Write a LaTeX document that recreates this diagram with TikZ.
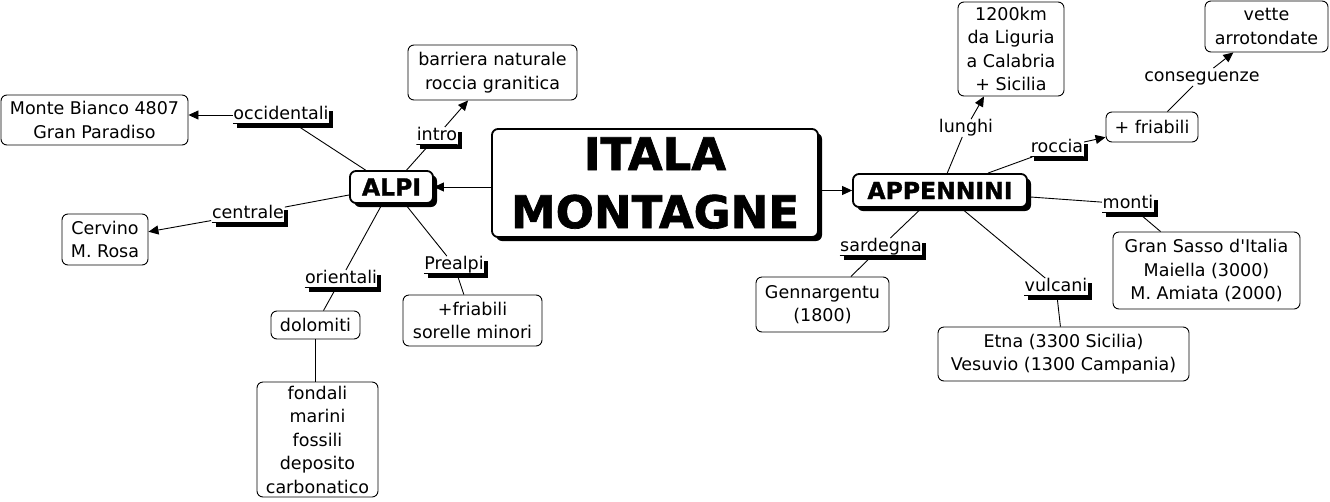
\documentclass[tikz,border=0pt]{standalone}
\usepackage{fontspec}
\setmainfont{DejaVu Sans}[Ligatures=TeXOff]
\newfontfamily\heavyfont{DejaVu Sans Bold}[FakeBold=1.5]
\usepackage{tikz}
\usetikzlibrary{arrows.meta,shadows}

\begin{document}
\begin{tikzpicture}[x=1pt,y=-1pt,line width=0.9pt,
  concept/.style={draw,rounded corners=6pt,fill=white,align=center,inner sep=0pt,font=\fontsize{17.5}{23.5}\selectfont},
  topic/.style={concept,line width=1.8pt,font=\heavyfont\fontsize{23.5}{28}\selectfont,drop shadow={shadow xshift=4pt,shadow yshift=-4pt,fill=black,opacity=1}},
  linkword/.style={fill=white,inner xsep=0.5pt,inner ysep=0pt,text height=13pt,text depth=4pt,font=\fontsize{17.5}{23.5}\selectfont},
  linkul/.style={linkword,drop shadow={shadow xshift=4pt,shadow yshift=-4pt,fill=black,opacity=1},path picture={\draw[line width=1.6pt] (path picture bounding box.south west)--(path picture bounding box.south east);}},
  arr/.style={-{Triangle[length=10pt,width=9pt]}}]
\useasboundingbox (0,0) rectangle (1330,501);
% main concepts
\node[topic,font=\heavyfont\fontsize{45}{58}\selectfont,minimum width=326pt,minimum height=108pt] (itala) at (655,183) {ITALA\\MONTAGNE};
\node[topic,minimum width=83pt,minimum height=32pt] (alpi) at (391.5,187) {ALPI};
\node[topic,minimum width=174pt,minimum height=33pt] (appennini) at (940,190.5) {APPENNINI};
% alpi side
\node[concept,minimum width=169pt,minimum height=55pt] (barriera) at (492.5,72.5) {barriera naturale\\roccia granitica};
\node[concept,minimum width=187pt,minimum height=50pt] (bianco) at (94.5,120) {Monte Bianco 4807\\Gran Paradiso};
\node[concept,minimum width=86pt,minimum height=51pt] (cervino) at (105,239.5) {Cervino\\M. Rosa};
\node[concept,minimum width=89pt,minimum height=28pt] (dolomiti) at (315.5,325) {dolomiti};
\node[concept,minimum width=121pt,minimum height=115pt] (fondali) at (317.5,439.5) {fondali\\marini\\fossili\\deposito\\carbonatico};
\node[concept,minimum width=139pt,minimum height=51pt] (sorelle) at (472.5,320.5) {+friabili\\sorelle minori};
\node[linkul] (occ) at (281,115) {occidentali};
\node[linkul] (intro) at (437,136) {intro};
\node[linkul] (centrale) at (248,214) {centrale};
\node[linkul] (orient) at (341,279) {orientali};
\node[linkul] (prealpi) at (454,265) {Prealpi};
% appennini side
\node[concept,minimum width=106pt,minimum height=94pt] (km) at (1011,49) {1200km\\da Liguria\\a Calabria\\+ Sicilia};
\node[concept,minimum width=123pt,minimum height=51pt] (vette) at (1266.5,26.5) {vette\\arrotondate};
\node[concept,minimum width=92pt,minimum height=30pt] (friabili) at (1152,127) {+ friabili};
\node[concept,minimum width=187pt,minimum height=77pt] (sasso) at (1206.5,270.5) {Gran Sasso d'Italia\\Maiella (3000)\\M. Amiata (2000)};
\node[concept,minimum width=133pt,minimum height=55pt] (gennar) at (822.5,304.5) {Gennargentu\\(1800)};
\node[concept,minimum width=251pt,minimum height=54pt] (etna) at (1063.5,354) {Etna (3300 Sicilia)\\Vesuvio (1300 Campania)};
\node[linkword] (lunghi) at (966,128) {lunghi};
\node[linkul] (roccia) at (1057,148) {roccia};
\node[linkword] (conseg) at (1202,77) {conseguenze};
\node[linkul] (monti) at (1128,204) {monti};
\node[linkul] (sardegna) at (881,247) {sardegna};
\node[linkul] (vulcani) at (1056,287) {vulcani};
% connectors
\draw[arr] (itala.west |- alpi) -- (alpi);
\draw[arr] (itala.east |- appennini) -- (appennini);
\draw (alpi) -- (occ); \draw[arr] (occ) -- (bianco.east |- occ);
\draw (alpi) -- (intro); \draw[arr] (intro) -- (barriera);
\draw (alpi) -- (centrale); \draw[arr] (centrale) -- (cervino);
\draw (alpi) -- (orient); \draw (orient) -- (dolomiti);
\draw (dolomiti) -- (dolomiti |- fondali.north);
\draw (alpi) -- (prealpi); \draw (prealpi) -- (sorelle);
\draw (appennini) -- (lunghi); \draw[arr] (lunghi) -- (km);
\draw (appennini) -- (roccia); \draw[arr] (roccia) -- (friabili);
\draw (friabili) -- (conseg); \draw[arr] (conseg) -- (vette);
\draw (appennini) -- (monti); \draw (monti) -- (sasso);
\draw (appennini) -- (sardegna); \draw (sardegna) -- (gennar);
\draw (appennini) -- (vulcani); \draw (vulcani) -- (etna);
\end{tikzpicture}
\end{document}
